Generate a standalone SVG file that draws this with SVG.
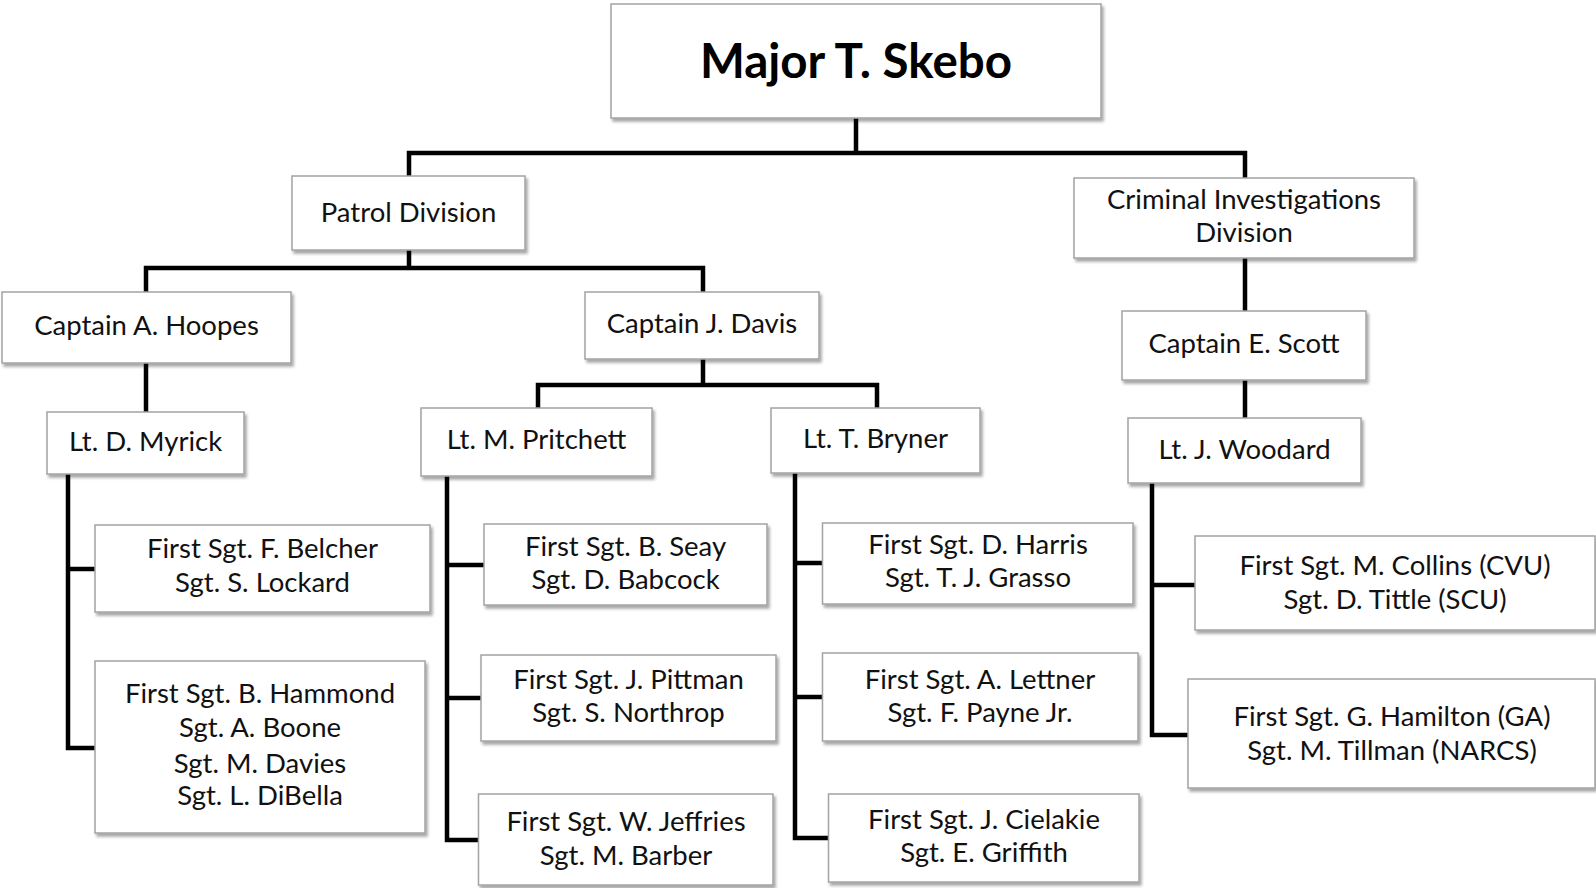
<svg xmlns="http://www.w3.org/2000/svg" width="1596" height="888" viewBox="0 0 1596 888">
<defs>
<filter id="sh" x="-10%" y="-10%" width="120%" height="130%">
<feDropShadow dx="2" dy="3" stdDeviation="1.6" flood-color="#000" flood-opacity="0.35"/>
</filter>
<style>
.box{fill:#fff;stroke:#a3a3a3;stroke-width:1.5;filter:url(#sh)}
.t{font-family:Lato,"Open Sans","Liberation Sans",sans-serif;font-size:27.5px;fill:#111;text-anchor:middle}
.big{font-family:Lato,"Open Sans","Liberation Sans",sans-serif;font-size:47.5px;font-weight:bold;fill:#000;text-anchor:middle}
.c{fill:none;stroke:#000;stroke-width:4.5;stroke-linejoin:miter;stroke-linecap:square}
</style>
</defs>
<rect width="1596" height="888" fill="#fff"/>
<g id="connectors">
<path class="c" d="M856 118V153M409 176V153H1245V178"/>
<path class="c" d="M409 250V268M146 292V268H703V292"/>
<path class="c" d="M703 359V385M538 408V385H877V408"/>
<path class="c" d="M146 363V412"/>
<path class="c" d="M1245 258V311M1245 380V418"/>
<path class="c" d="M68 474V748H95M68 569H95"/>
<path class="c" d="M447 476V840H479M447 565H484M447 698H481"/>
<path class="c" d="M795 473V838H829M795 563H822M795 697H822"/>
<path class="c" d="M1152 483V735H1188M1152 585H1195"/>
</g>
<g id="major"><rect class="box" x="611" y="4" width="490" height="114"/><text class="big" x="856" y="78">Major T. Skebo</text></g>
<g id="patrol"><rect class="box" x="292" y="176" width="233" height="74"/><text class="t" x="408.5" y="222">Patrol Division</text></g>
<g id="cid"><rect class="box" x="1074" y="178" width="340" height="80"/><text class="t" x="1244" y="208.5">Criminal Investigations</text><text class="t" x="1244" y="242">Division</text></g>
<g id="hoopes"><rect class="box" x="2" y="292" width="289" height="71"/><text class="t" x="146.5" y="335">Captain A. Hoopes</text></g>
<g id="davis"><rect class="box" x="585" y="292" width="234" height="67"/><text class="t" x="702" y="333">Captain J. Davis</text></g>
<g id="scott"><rect class="box" x="1122" y="311" width="244" height="69"/><text class="t" x="1244" y="353">Captain E. Scott</text></g>
<g id="myrick"><rect class="box" x="47" y="412" width="197" height="62"/><text class="t" x="145.5" y="451">Lt. D. Myrick</text></g>
<g id="pritchett"><rect class="box" x="421" y="408" width="231" height="68"/><text class="t" x="536.5" y="449">Lt. M. Pritchett</text></g>
<g id="bryner"><rect class="box" x="771" y="408" width="209" height="65"/><text class="t" x="875.5" y="448">Lt. T. Bryner</text></g>
<g id="woodard"><rect class="box" x="1128" y="418" width="233" height="65"/><text class="t" x="1244.5" y="459">Lt. J. Woodard</text></g>
<g id="belcher"><rect class="box" x="95" y="525" width="335" height="87"/><text class="t" x="262.5" y="558">First Sgt. F. Belcher</text><text class="t" x="262.5" y="591.5">Sgt. S. Lockard</text></g>
<g id="hammond"><rect class="box" x="95" y="661" width="330" height="172"/><text class="t" x="260" y="703">First Sgt. B. Hammond</text><text class="t" x="260" y="737">Sgt. A. Boone</text><text class="t" x="260" y="773">Sgt. M. Davies</text><text class="t" x="260" y="805">Sgt. L. DiBella</text></g>
<g id="seay"><rect class="box" x="484" y="524" width="283" height="81"/><text class="t" x="625.5" y="555.5">First Sgt. B. Seay</text><text class="t" x="625.5" y="588.5">Sgt. D. Babcock</text></g>
<g id="pittman"><rect class="box" x="481" y="655" width="295" height="86"/><text class="t" x="628.5" y="688.5">First Sgt. J. Pittman</text><text class="t" x="628.5" y="721.5">Sgt. S. Northrop</text></g>
<g id="jeffries"><rect class="box" x="478.5" y="794" width="294.5" height="91"/><text class="t" x="626" y="831">First Sgt. W. Jeffries</text><text class="t" x="626" y="865">Sgt. M. Barber</text></g>
<g id="harris"><rect class="box" x="822.5" y="523" width="310.5" height="81"/><text class="t" x="978" y="553.5">First Sgt. D. Harris</text><text class="t" x="978" y="586.5">Sgt. T. J. Grasso</text></g>
<g id="lettner"><rect class="box" x="822.5" y="653" width="315.5" height="88"/><text class="t" x="980" y="688.5">First Sgt. A. Lettner</text><text class="t" x="980" y="721.5">Sgt. F. Payne Jr.</text></g>
<g id="cielakie"><rect class="box" x="828.5" y="794" width="310.5" height="88"/><text class="t" x="984" y="828.5">First Sgt. J. Cielakie</text><text class="t" x="984" y="861.5">Sgt. E. Griffith</text></g>
<g id="collins"><rect class="box" x="1195" y="536" width="400" height="94"/><text class="t" x="1395" y="575">First Sgt. M. Collins (CVU)</text><text class="t" x="1395" y="608.5">Sgt. D. Tittle (SCU)</text></g>
<g id="hamilton"><rect class="box" x="1188" y="679" width="407" height="109"/><text class="t" x="1392" y="726">First Sgt. G. Hamilton (GA)</text><text class="t" x="1392" y="759.5">Sgt. M. Tillman (NARCS)</text></g>
</svg>
